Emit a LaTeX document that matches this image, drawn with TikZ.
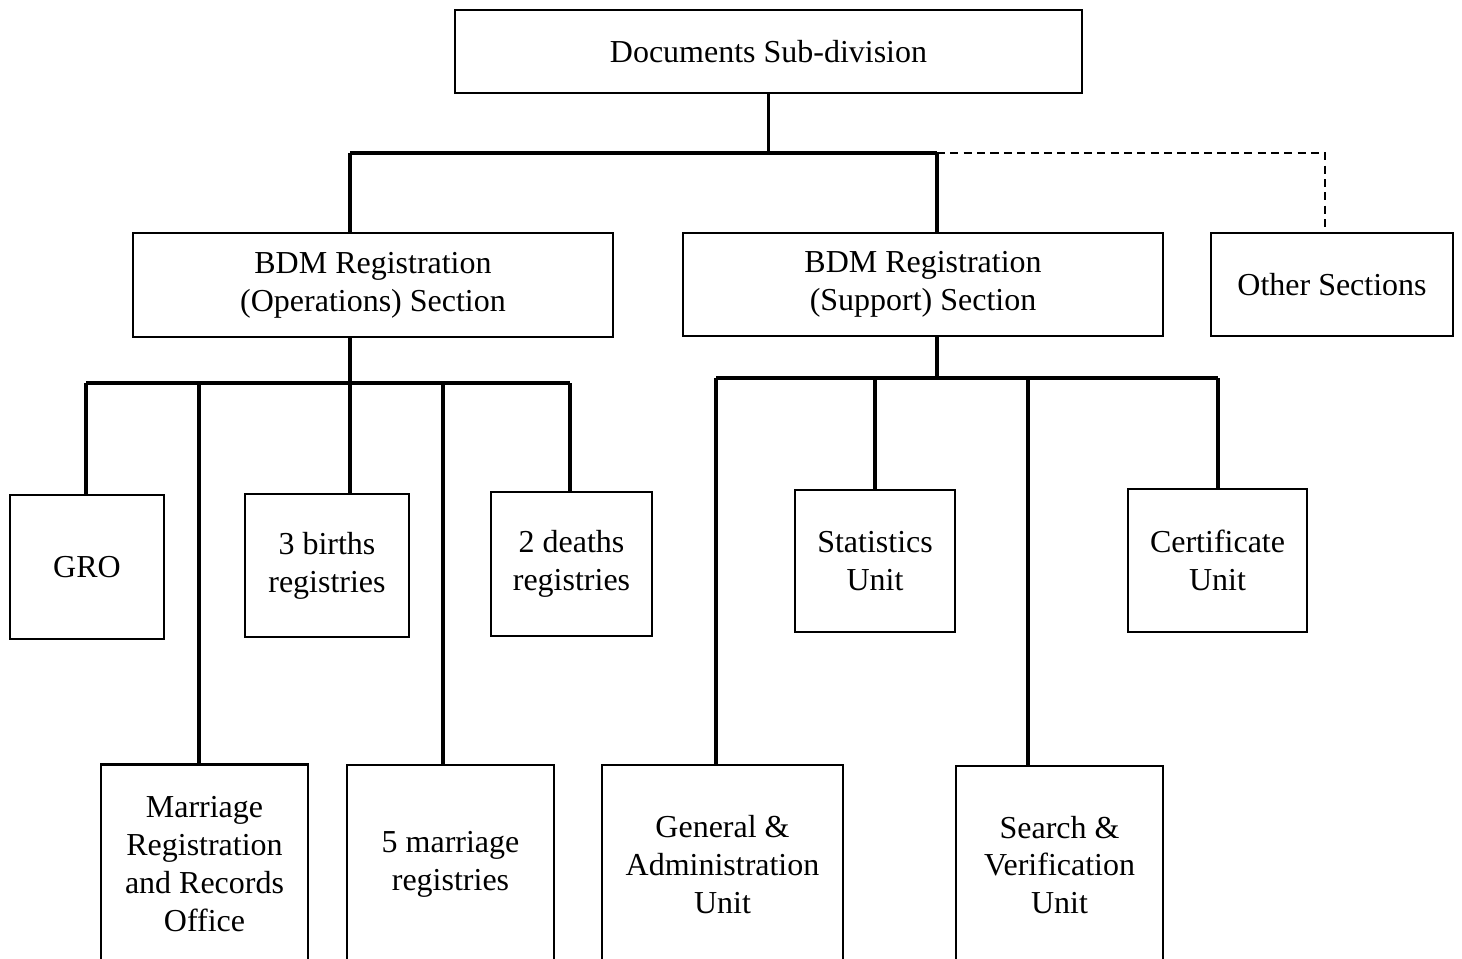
\documentclass[tikz,border=0pt]{standalone}
\usepackage{fontspec}
\setmainfont{Liberation Serif}
\begin{document}
\begin{tikzpicture}[
    unitbox/.style={draw,line width=0.6pt,inner sep=0pt,align=center,
        font=\fontsize{9.1}{10.8}\selectfont},
    conn/.style={line width=0.9pt},
    dashconn/.style={line width=0.6pt,dash pattern=on 2.3pt off 1.5pt}]
    \useasboundingbox (0,0) rectangle (14.62,-9.58);
    \clip (0,0) rectangle (14.62,-9.58);
	\node[unitbox,minimum width=6.27cm,minimum height=0.83cm] (doc) at (7.685,-0.515) {Documents Sub-division};
	\node[unitbox,minimum width=4.80cm,minimum height=1.04cm] (ops) at (3.73,-2.85) {BDM Registration\\(Operations) Section};
	\node[unitbox,minimum width=4.80cm,minimum height=1.03cm] (sup) at (9.23,-2.845) {BDM Registration\\(Support) Section};
	\node[unitbox,minimum width=2.42cm,minimum height=1.03cm] (oth) at (13.32,-2.845) {Other Sections};
	\node[unitbox,minimum width=1.54cm,minimum height=1.44cm] (gro) at (0.87,-5.67) {GRO};
	\node[unitbox,minimum width=2.07cm,minimum height=1.99cm] (mro) at (2.045,-8.64) {Marriage\\Registration\\and Records\\Office};
	\node[unitbox,minimum width=1.64cm,minimum height=1.43cm] (bir) at (3.27,-5.655) {3 births\\registries};
	\node[unitbox,minimum width=2.07cm,minimum height=1.99cm] (mar) at (4.505,-8.645) {5 marriage\\registries};
	\node[unitbox,minimum width=1.61cm,minimum height=1.44cm] (dea) at (5.715,-5.64) {2 deaths\\registries};
	\node[unitbox,minimum width=2.41cm,minimum height=1.99cm] (gen) at (7.225,-8.645) {General \&\\Administration\\Unit};
	\node[unitbox,minimum width=1.60cm,minimum height=1.42cm] (sta) at (8.75,-5.61) {Statistics\\Unit};
	\node[unitbox,minimum width=2.07cm,minimum height=1.98cm] (sea) at (10.595,-8.65) {Search \&\\Verification\\Unit};
	\node[unitbox,minimum width=1.79cm,minimum height=1.43cm] (cer) at (12.175,-5.605) {Certificate\\Unit};
	% top level
	\coordinate (opsbus) at (3.50,-1.53);
	\coordinate (supbus) at (9.37,-1.53);
	\coordinate (othbus) at (13.25,-1.53);
	\draw[conn] (doc.south) -- (doc.south |- opsbus);
	\draw[conn] (opsbus) -- (supbus);
	\draw[conn] (opsbus) -- (opsbus |- ops.north);
	\draw[conn] (supbus) -- (supbus |- sup.north);
	\draw[dashconn] (supbus) -- (othbus) -- (othbus |- oth.north);
	% operations
	\draw[conn] (opsbus |- ops.south) -- (3.50,-3.83);
	\draw[conn] (0.86,-3.83) -- (5.70,-3.83);
	\foreach \x/\n in {0.86/gro,1.99/mro,3.50/bir,4.43/mar,5.70/dea}
	    \draw[conn] (\x,-3.83) -- (\x,-3.83 |- \n.north);
	% support
	\draw[conn] (supbus |- sup.south) -- (9.37,-3.78);
	\draw[conn] (7.16,-3.78) -- (12.18,-3.78);
	\foreach \x/\n in {7.16/gen,8.75/sta,10.28/sea,12.18/cer}
	    \draw[conn] (\x,-3.78) -- (\x,-3.78 |- \n.north);
\end{tikzpicture}
\end{document}
